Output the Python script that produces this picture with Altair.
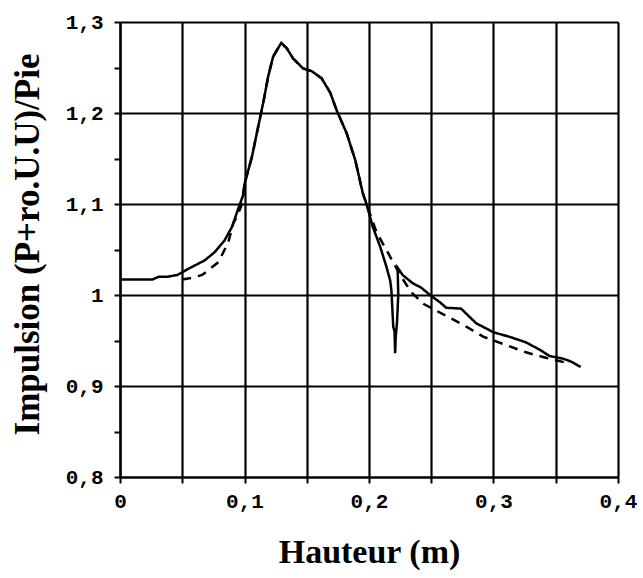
import altair as alt
import pandas as pd

# Mesured profile (solid) and computed profile (dashed)
x_mesure = [0.0, 0.015, 0.026, 0.031, 0.038, 0.046, 0.058, 0.068, 0.076, 0.084,
            0.090, 0.095, 0.099, 0.100, 0.106, 0.111, 0.115, 0.119, 0.123, 0.1295,
            0.134, 0.139, 0.147, 0.154, 0.162, 0.169, 0.174, 0.182, 0.189, 0.195,
            0.198, 0.203, 0.209, 0.214, 0.217, 0.218, 0.2195, 0.2205, 0.221, 0.2215,
            0.2225, 0.2235, 0.223, 0.227, 0.235, 0.242, 0.249, 0.257, 0.262, 0.274,
            0.286, 0.300, 0.313, 0.326, 0.337, 0.345, 0.356, 0.362, 0.370]
y_mesure = [1.017, 1.017, 1.017, 1.020, 1.020, 1.022, 1.031, 1.038, 1.047, 1.060,
            1.075, 1.095, 1.110, 1.122, 1.152, 1.185, 1.211, 1.240, 1.262, 1.277,
            1.271, 1.260, 1.249, 1.246, 1.238, 1.222, 1.203, 1.178, 1.148, 1.112,
            1.100, 1.075, 1.053, 1.031, 1.016, 1.005, 0.965, 0.960, 0.936, 0.955,
            0.970, 1.000, 1.030, 1.022, 1.013, 1.008, 1.000, 0.992, 0.986, 0.985,
            0.969, 0.959, 0.954, 0.948, 0.940, 0.933, 0.930, 0.927, 0.921]

x_calcul = [0.050, 0.058, 0.066, 0.079, 0.087, 0.091, 0.094, 0.098, 0.100, 0.106,
            0.111, 0.115, 0.119, 0.123, 0.1295, 0.134, 0.139, 0.147, 0.154, 0.162,
            0.169, 0.174, 0.182, 0.189, 0.195, 0.198, 0.206, 0.215, 0.225, 0.234,
            0.244, 0.262, 0.276, 0.292, 0.308, 0.326, 0.342, 0.360]
y_calcul = [1.017, 1.019, 1.022, 1.036, 1.058, 1.079, 1.086, 1.100, 1.122, 1.152,
            1.185, 1.211, 1.240, 1.262, 1.277, 1.271, 1.260, 1.249, 1.246, 1.238,
            1.222, 1.203, 1.178, 1.148, 1.112, 1.100, 1.069, 1.047, 1.022, 1.003,
            0.990, 0.977, 0.967, 0.954, 0.946, 0.937, 0.931, 0.925]

x_ticks = [0.0, 0.05, 0.1, 0.15, 0.2, 0.25, 0.3, 0.35, 0.4]
y_ticks = [0.8, 0.85, 0.9, 0.95, 1.0, 1.05, 1.1, 1.15, 1.2, 1.25, 1.3]

rows = []
for i, (x, y) in enumerate(zip(x_mesure, y_mesure)):
    rows.append({"h": x, "imp": y, "serie": "mesure", "ordre": i})
for i, (x, y) in enumerate(zip(x_calcul, y_calcul)):
    rows.append({"h": x, "imp": y, "serie": "calcul", "ordre": i})
df = pd.DataFrame(rows)

major = "abs(datum.value*10 - round(datum.value*10)) < 0.001"
label_expr = (f"datum.value == 0 ? '0' : datum.value == 1 ? '1' : ({major}) ? "
              "replace(format(datum.value, '.1f'), '.', ',') : ''")

x_axis = alt.Axis(
    values=x_ticks, labelExpr=label_expr, title="Hauteur (m)",
    grid=True, gridColor="black", gridWidth=2.2, gridOpacity=1,
    domainColor="black", domainWidth=2.2,
    ticks=True, tickColor="black", tickWidth=2, tickSize=6,
    labelFont="Liberation Mono", labelFontWeight="bold", labelFontSize=21,
    labelColor="black", labelPadding=7, labelFlush=False,
    titleFont="Liberation Serif", titleFontWeight="bold", titleFontSize=34,
    titleColor="black", titleY=75, titleBaseline="middle",
)
y_axis = alt.Axis(
    values=y_ticks, labelExpr=label_expr, title="Impulsion (P+ro.U.U)/Pie",
    grid=True, gridColor="black", gridWidth=2.2,
    gridOpacity={"condition": {"test": major, "value": 1}, "value": 0},
    domainColor="black", domainWidth=2.2,
    ticks=True, tickColor="black", tickWidth=2, tickSize=6,
    labelFont="Liberation Mono", labelFontWeight="bold", labelFontSize=21,
    labelColor="black", labelPadding=11, labelFlush=False,
    titleFont="Liberation Serif", titleFontWeight="bold", titleFontSize=35,
    titleColor="black", titleAngle=-90, titleX=-93, titleY=222,
    titleBaseline="middle", titleAlign="center",
)

chart = alt.Chart(df).mark_line(color="black", strokeWidth=2.5).encode(
    x=alt.X("h:Q", scale=alt.Scale(domain=[0, 0.4], nice=False), axis=x_axis),
    y=alt.Y("imp:Q", scale=alt.Scale(domain=[0.8, 1.3], nice=False, zero=False), axis=y_axis),
    strokeDash=alt.StrokeDash(
        "serie:N",
        scale=alt.Scale(domain=["mesure", "calcul"], range=[[1, 0], [9, 7]]),
        legend=None,
    ),
    detail="serie:N",
    order="ordre:Q",
).properties(
    width=498,
    height=455,
    autosize=alt.AutoSizeParams(type="none"),
    padding={"left": 120, "top": 22, "right": 25, "bottom": 101},
).configure_view(stroke=None).configure(background="white")

chart.save("out.html", embed_options={"renderer": "svg", "actions": False})
